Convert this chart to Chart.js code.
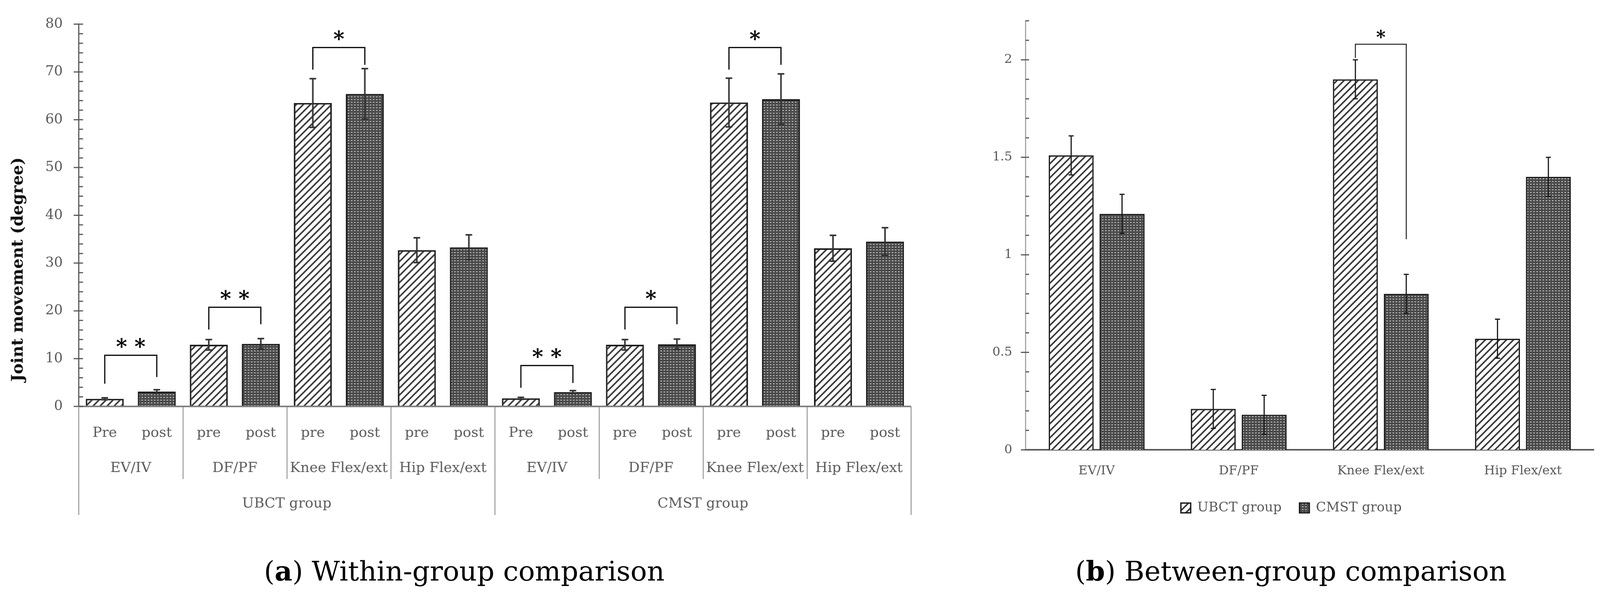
<!DOCTYPE html>
<html><head><meta charset="utf-8">
<script src="https://cdn.jsdelivr.net/npm/chart.js@4.4.1/dist/chart.umd.min.js"></script>
<style>
html,body{margin:0;padding:0;background:#fff;overflow:hidden;}
body{position:relative;width:100vw;height:1524px;}
.wrap{position:absolute;top:0;height:1400px;}
.cap{position:absolute;top:1428px;font-family:'DejaVu Serif';font-size:70px;line-height:70px;white-space:nowrap;transform:translateX(-50%);color:#000;}
</style></head><body>
<div id="wa" class="wrap"><canvas id="ca"></canvas></div>
<div id="wb" class="wrap"><canvas id="cb"></canvas></div>
<div id="capA" class="cap">(<b>a</b>) Within-group comparison</div>
<div id="capB" class="cap">(<b>b</b>) Between-group comparison</div>
<script>
// ---------- data ----------
const phaseLabels = ['Pre','post','pre','post','pre','post','pre','post'];
const measures = ['EV/IV','DF/PF','Knee Flex/ext','Hip Flex/ext'];
const groups = ['UBCT group','CMST group'];
const ubctMeans = [1.6, 3.1, 12.9, 13.1, 63.5, 65.4, 32.7, 33.3];
const ubctSD    = [0.2, 0.4, 1.1, 1.1, 5.1, 5.3, 2.6, 2.6];
const cmstMeans = [1.7, 3.0, 12.9, 13.0, 63.6, 64.3, 33.1, 34.5];
const cmstSD    = [0.2, 0.3, 1.1, 1.1, 5.1, 5.3, 2.7, 2.9];
const yAxisTitle = 'Joint movement (degree)';
// significance brackets: measure index, label, left leg bottom, right leg bottom, bracket level
const ubctSig = [
  {m:0, text:'* *', l:4.75, r:6.15, top:10.7},
  {m:1, text:'* *', l:16.1, r:17.2, top:20.75},
  {m:2, text:'*',   l:70.5, r:71.5, top:75.1}
];
const cmstSig = [
  {m:0, text:'* *', l:3.9,  r:4.9,  top:8.56},
  {m:1, text:'*',   l:16.1, r:17.2, top:20.75},
  {m:2, text:'*',   l:70.5, r:71.5, top:75.1}
];
const ubctChange    = [1.51, 0.21, 1.90, 0.57];
const cmstChange    = [1.21, 0.18, 0.80, 1.40];
const ubctChangeErr = [0.1, 0.1, 0.1, 0.1];
const cmstChangeErr = [0.1, 0.1, 0.1, 0.1];
const betweenSig = [{m:2, text:'*', l:2.01, r:1.08, top:2.08}];

// ---------- layout (design width 4208, scaled to the real viewport width) ----------
const W = window.innerWidth || 4208;
const sx = W/4208;
const wa=document.getElementById('wa'), wb=document.getElementById('wb');
wa.style.left='0px'; wa.style.width=(2600*sx)+'px';
wb.style.left=(2600*sx)+'px'; wb.style.width=(W-2600*sx)+'px';
document.getElementById('capA').style.left=(1221*sx)+'px';
document.getElementById('capB').style.left=(3395*sx)+'px';

function makeHatch(ctx){
  const c=document.createElement('canvas'); c.width=18; c.height=18;
  const g=c.getContext('2d');
  g.fillStyle='#fff'; g.fillRect(0,0,18,18);
  g.strokeStyle='#3a3a3a'; g.lineWidth=4;
  g.beginPath();
  g.moveTo(-2,20); g.lineTo(20,-2);
  g.moveTo(-11,11); g.lineTo(11,-11);
  g.moveTo(7,29); g.lineTo(29,7);
  g.stroke();
  return ctx.createPattern(c,'repeat');
}
function makeDots(ctx){
  const c=document.createElement('canvas'); c.width=8; c.height=7;
  const g=c.getContext('2d');
  g.fillStyle='#4a4a4a'; g.fillRect(0,0,8,7);
  g.fillStyle='#cfcfcf'; g.fillRect(2,2,4,2);
  return ctx.createPattern(c,'repeat');
}
const FONT='DejaVu Serif';
const allLabels = groups.flatMap(()=>phaseLabels);
const meansA = ubctMeans.concat(cmstMeans);
const errA = ubctSD.concat(cmstSD);

function drawErr(ctx, x, y0, y1, cap, color, lw){
  ctx.strokeStyle=color; ctx.lineWidth=lw;
  ctx.beginPath();
  ctx.moveTo(x,y0); ctx.lineTo(x,y1);
  ctx.moveTo(x-cap/2,y0); ctx.lineTo(x+cap/2,y0);
  ctx.moveTo(x-cap/2,y1); ctx.lineTo(x+cap/2,y1);
  ctx.stroke();
}

// ---------- panel A ----------
const panelA = {
  id:'panelA',
  afterDatasetsDraw(chart){
    const {ctx, chartArea:ca, scales:{x,y}} = chart;
    ctx.save();
    const y0=y.getPixelForValue(0);
    ctx.strokeStyle='#7f7f7f'; ctx.lineWidth=4;
    ctx.beginPath(); ctx.moveTo(ca.left,y0); ctx.lineTo(ca.right,y0); ctx.stroke();
    chart.getDatasetMeta(0).data.forEach((el,i)=>{
      drawErr(ctx, el.x, y.getPixelForValue(meansA[i]+errA[i]), y.getPixelForValue(meansA[i]-errA[i]), 17, '#333', 4);
    });
    ctx.strokeStyle='#595959'; ctx.lineWidth=3;
    y.ticks.forEach(t=>{
      const py=y.getPixelForValue(t.value);
      const major=Math.abs(t.value%10)<1e-6;
      ctx.beginPath(); ctx.moveTo(ca.left-(major?13:0),py); ctx.lineTo(ca.left+11,py); ctx.stroke();
    });
    ctx.strokeStyle='#000'; ctx.lineWidth=3; ctx.fillStyle='#000';
    ctx.font='bold 54px "'+FONT+'"'; ctx.textAlign='center'; ctx.textBaseline='alphabetic';
    [ubctSig,cmstSig].forEach((arr,g)=>arr.forEach(s=>{
      const i0=g*8+s.m*2, i1=i0+1;
      const xa=x.getPixelForValue(i0), xb=x.getPixelForValue(i1);
      const yt=y.getPixelForValue(s.top);
      ctx.beginPath();
      ctx.moveTo(xa,y.getPixelForValue(s.l)); ctx.lineTo(xa,yt); ctx.lineTo(xb,yt); ctx.lineTo(xb,y.getPixelForValue(s.r));
      ctx.stroke();
      ctx.fillText(s.text,(xa+xb)/2,yt-4);
    }));
    const b=ca.bottom;
    ctx.fillStyle='#595959'; ctx.font='36px "'+FONT+'"'; ctx.textBaseline='middle';
    allLabels.forEach((lab,i)=>ctx.fillText(lab,x.getPixelForValue(i),b+69));
    const n=allLabels.length;
    const edge=(k)=> k<=0?ca.left:(k>=n?ca.right:(x.getPixelForValue(k-1)+x.getPixelForValue(k))/2);
    groups.forEach((gname,g)=>{
      measures.forEach((m,mi)=>{
        const k0=g*8+mi*2;
        ctx.fillText(m,(edge(k0)+edge(k0+2))/2,b+159);
      });
      ctx.fillText(gname,(edge(g*8)+edge(g*8+8))/2,b+250);
    });
    ctx.strokeStyle='#7f7f7f'; ctx.lineWidth=2;
    for(let k=0;k<=n;k+=2){
      const xx=Math.round(edge(k))+0.5;
      ctx.beginPath(); ctx.moveTo(xx,b); ctx.lineTo(xx,b+(k%8===0?278:186)); ctx.stroke();
    }
    ctx.save();
    ctx.translate(49*sx,(ca.top+b+278)/2);
    ctx.rotate(-Math.PI/2);
    ctx.fillStyle='#111'; ctx.font='bold 41px "'+FONT+'"'; ctx.textBaseline='middle';
    ctx.fillText(yAxisTitle,0,0);
    ctx.restore();
    ctx.restore();
  }
};

const ctxA=document.getElementById('ca').getContext('2d');
const hatchA=makeHatch(ctxA), dotsA=makeDots(ctxA);
new Chart(ctxA,{
  type:'bar',
  data:{labels:allLabels, datasets:[{data:meansA,
    backgroundColor:(c)=> c.dataIndex%2===0?hatchA:dotsA,
    borderColor:'#1c1c1c', borderWidth:4, barPercentage:0.73, categoryPercentage:1.0}]},
  options:{
    responsive:true, maintainAspectRatio:false, animation:false, devicePixelRatio:1,
    layout:{padding:{left:0,top:41,right:205*sx,bottom:359}},
    plugins:{legend:{display:false}, tooltip:{enabled:false}},
    scales:{
      x:{display:false},
      y:{min:0,max:80,
        ticks:{stepSize:2, autoSkip:false, callback:(v)=> (Math.abs(v%10)<1e-6? String(v):''),
          font:{family:FONT,size:35}, color:'#595959', padding:42*sx},
        grid:{display:false, drawTicks:false},
        border:{display:true,color:'#595959',width:3},
        afterFit:(s)=>{s.width=207*sx;}}
    }
  },
  plugins:[panelA]
});

// ---------- panel B ----------
const panelB = {
  id:'panelB',
  afterDatasetsDraw(chart){
    const {ctx, chartArea:ca, scales:{x,y}} = chart;
    ctx.save();
    [[ubctChange,ubctChangeErr],[cmstChange,cmstChangeErr]].forEach((s,d)=>{
      chart.getDatasetMeta(d).data.forEach((el,i)=>{
        drawErr(ctx, el.x, y.getPixelForValue(s[0][i]+s[1][i]), y.getPixelForValue(s[0][i]-s[1][i]), 13, '#1a1a1a', 3);
      });
    });
    ctx.strokeStyle='#595959'; ctx.lineWidth=3;
    y.ticks.forEach(t=>{
      const py=y.getPixelForValue(t.value);
      const major=Math.abs(t.value*2-Math.round(t.value*2))<1e-6;
      ctx.beginPath(); ctx.moveTo(ca.left-(major?12:0),py); ctx.lineTo(ca.left+9,py); ctx.stroke();
    });
    ctx.strokeStyle='#222'; ctx.lineWidth=2.5; ctx.fillStyle='#000';
    ctx.font='bold 46px "'+FONT+'"'; ctx.textAlign='center'; ctx.textBaseline='alphabetic';
    betweenSig.forEach(s=>{
      const xa=chart.getDatasetMeta(0).data[s.m].x, xb=chart.getDatasetMeta(1).data[s.m].x;
      const yt=y.getPixelForValue(s.top);
      ctx.beginPath();
      ctx.moveTo(xa,y.getPixelForValue(s.l)); ctx.lineTo(xa,yt); ctx.lineTo(xb,yt); ctx.lineTo(xb,y.getPixelForValue(s.r));
      ctx.stroke();
      ctx.fillText(s.text,(xa+xb)/2,yt-2);
    });
    ctx.restore();
  }
};
const ctxB=document.getElementById('cb').getContext('2d');
const hatchB=makeHatch(ctxB), dotsB=makeDots(ctxB);
new Chart(ctxB,{
  type:'bar',
  data:{labels:measures, datasets:[
    {label:'UBCT group', data:ubctChange, backgroundColor:hatchB, borderColor:'#1c1c1c', borderWidth:3.5, barPercentage:0.884, categoryPercentage:0.716},
    {label:'CMST group', data:cmstChange, backgroundColor:dotsB, borderColor:'#1c1c1c', borderWidth:3.5, barPercentage:0.884, categoryPercentage:0.716}
  ]},
  options:{
    responsive:true, maintainAspectRatio:false, animation:false, devicePixelRatio:1,
    layout:{padding:{left:0,top:40,right:16*sx,bottom:72}},
    plugins:{
      legend:{position:'bottom', labels:{font:{family:FONT,size:34}, color:'#595959', boxWidth:25, boxHeight:25, padding:47*sx}},
      tooltip:{enabled:false}
    },
    scales:{
      x:{ticks:{font:{family:FONT,size:32}, color:'#595959', padding:35},
         grid:{display:false, drawTicks:false},
         border:{display:true,color:'#595959',width:4},
         afterFit:(s)=>{s.height=86;}},
      y:{min:0,max:2.2,
        ticks:{stepSize:0.1, autoSkip:false,
          callback:(v)=> (Math.abs(v*2-Math.round(v*2))<1e-6? String(Number(v.toFixed(1))):''),
          font:{family:FONT,size:32}, color:'#595959', padding:35*sx},
        grid:{display:false, drawTicks:false},
        border:{display:true,color:'#a6a6a6',width:3},
        afterFit:(s)=>{s.width=97*sx;}}
    }
  },
  plugins:[panelB]
});
</script>
</body></html>
